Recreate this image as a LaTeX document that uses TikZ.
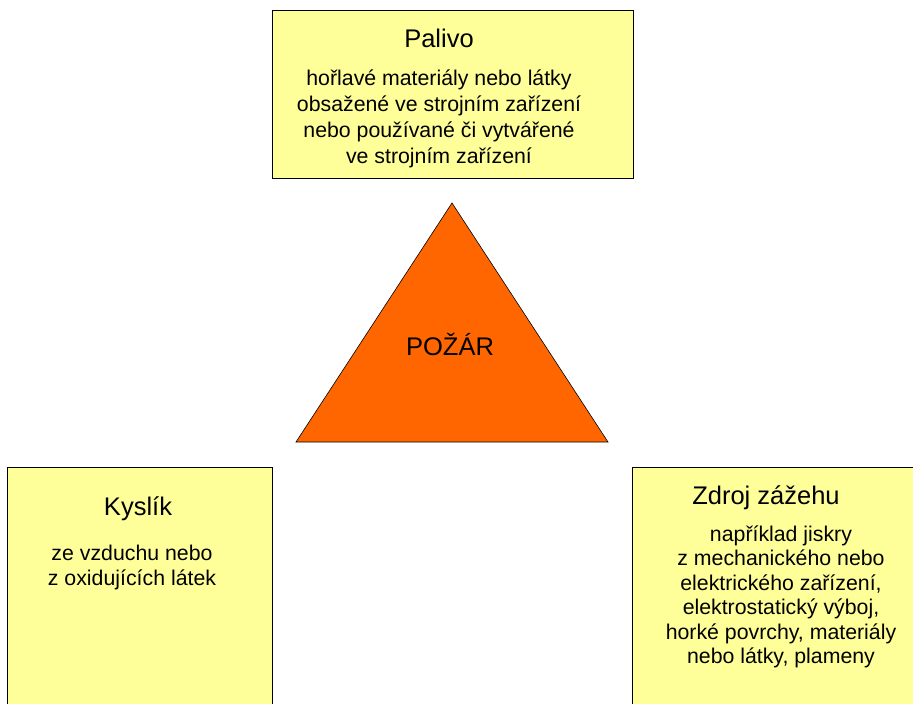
\documentclass[tikz,border=0pt]{standalone}
\usepackage{fontspec}
\setmainfont{Liberation Sans}
\usetikzlibrary{positioning, calc}
\definecolor{boxColor}{HTML}{FFFF99}
\definecolor{fireColor}{HTML}{FF6600}

\begin{document}
\begin{tikzpicture}[
    x=1pt, y=-1pt,
    % Box Styles
    factBox/.style={
        draw=black,
        line width=0.8pt,
        fill=boxColor
    },
    fire/.style={
        draw=black,
        line width=0.6pt,
        fill=fireColor
    },
    % Text Styles
    title/.style={
        font=\fontsize{25.5}{30}\selectfont,
        anchor=base,
        inner sep=0pt
    },
    body/.style={
        font=\fontsize{21.3}{25}\selectfont,
        align=center,
        anchor=base,
        inner sep=0pt
    }
]

    % --- FRAME ---
    \useasboundingbox (0,0) rectangle (913,704);
    \clip (0,0) rectangle (913,704);

    % --- BOXES ---
    \draw[factBox] (272,10) rectangle (633,178);
    \draw[factBox] (7,467) rectangle (272,720);
    \draw[factBox] (632,467) rectangle (930,720);

    % --- TRIANGLE ---
    \coordinate (apex) at (452,203);
    \coordinate (baseL) at (296,442);
    \coordinate (baseR) at (608,442);
    \draw[fire] (apex) -- (baseL) -- (baseR) -- cycle;
    \node[title] (fire) at (450,355) {POŽÁR};

    % --- FUEL ---
    % (base anchor sits on the last line)
    \node[title] (fuel) at (439,47) {Palivo};
    \node[body, font=\fontsize{21.3}{26}\selectfont] (fuelText) at (439,163)
        {hořlavé materiály nebo látky\\obsažené ve strojním zařízení\\nebo používané či vytvářené\\ve strojním zařízení};

    % --- OXYGEN ---
    \node[title] (oxygen) at (138,515) {Kyslík};
    \node[body] (oxygenText) at (132,585) {ze vzduchu nebo\\z oxidujících látek};

    % --- IGNITION ---
    \node[title] (ignition) at (766,504) {Zdroj zážehu};
    \node[body, font=\fontsize{21.3}{24.5}\selectfont] (ignitionText) at (781,663.5)
        {například jiskry\\z mechanického nebo\\elektrického zařízení,\\elektrostatický výboj,\\horké povrchy, materiály\\nebo látky, plameny};

\end{tikzpicture}
\end{document}
